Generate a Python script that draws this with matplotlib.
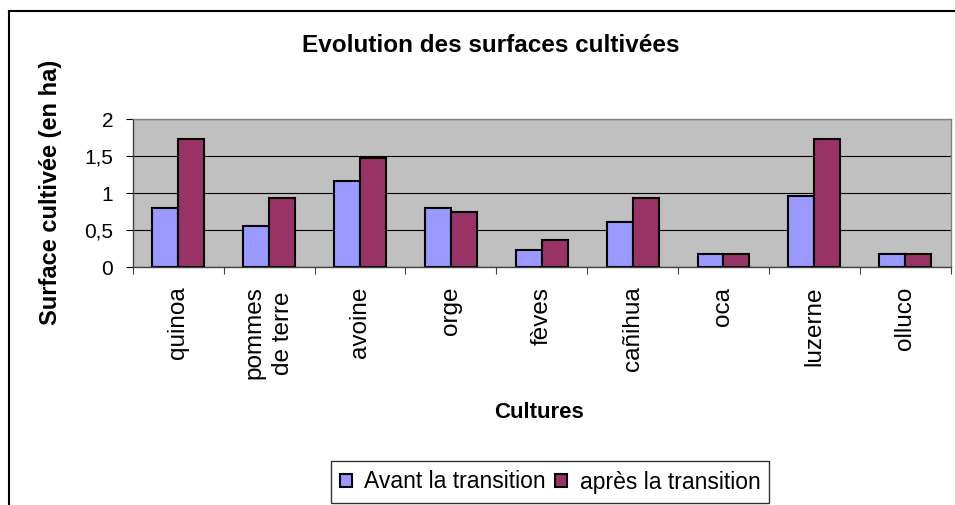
import numpy as np
import matplotlib.pyplot as plt
from matplotlib.lines import Line2D

plt.rcParams['font.family'] = ['Liberation Sans', 'DejaVu Sans']

cultures = ['quinoa', 'pommes\nde terre', 'avoine', 'orge', 'fèves',
            'cañihua', 'oca', 'luzerne', 'olluco']
avant = [0.80, 0.56, 1.16, 0.80, 0.23, 0.61, 0.18, 0.96, 0.18]
apres = [1.73, 0.94, 1.48, 0.75, 0.37, 0.94, 0.18, 1.73, 0.18]
yticks = [0, 0.5, 1, 1.5, 2]
ytick_labels = ['0', '0,5', '1', '1,5', '2']

fig = plt.figure(figsize=(9.55, 5.05), dpi=100)
ax = fig.add_axes([0.139, 0.471, 0.8565, 0.293])

x = np.arange(len(cultures))
w = 1 / 3.5
ax.bar(x - w / 2, avant, w, color='#9999FF', edgecolor='black', lw=1.5,
       label='Avant la transition')
ax.bar(x + w / 2, apres, w, color='#993366', edgecolor='black', lw=1.5,
       label='après la transition')

ax.set_xlim(-0.5, len(cultures) - 0.5)
ax.set_ylim(0, 2)
ax.set_facecolor('#C0C0C0')
ax.yaxis.grid(True, color='black', lw=0.8)
ax.set_axisbelow(True)

ax.set_yticks(yticks)
ax.set_yticklabels(ytick_labels, fontsize=15)
ax.tick_params(axis='y', length=5, width=0.8, pad=9)

# ticks between the groups, labels centred under each group
ax.set_xticks(np.arange(-0.5, len(cultures), 1))
ax.set_xticklabels([])
ax.set_xticks(x, minor=True)
ax.set_xticklabels(cultures, minor=True, rotation=90, fontsize=17.5,
                   va='top', ha='center', multialignment='center',
                   linespacing=1.4)
ax.tick_params(axis='x', which='major', length=5, width=0.8, color='#404040')
ax.tick_params(axis='x', which='minor', length=0, pad=14)

for side in ['top', 'right']:
    ax.spines[side].set_color('#808080')
for side in ['left', 'bottom']:
    ax.spines[side].set_color('#404040')
for s in ax.spines.values():
    s.set_linewidth(1)

fig.text(491 / 955, 1 - 45 / 505, 'Evolution des surfaces cultivées',
         ha='center', va='center', fontsize=17.5, fontweight='bold')
fig.text(50 / 955, 1 - 192 / 505, 'Surface cultivée (en ha)', rotation=90,
         ha='center', va='center', fontsize=17, fontweight='bold')
fig.text(539 / 955, 1 - 412 / 505, 'Cultures',
         ha='center', va='center', fontsize=16, fontweight='bold')

leg = fig.legend(loc='center', bbox_to_anchor=(550 / 955, 1 - 482 / 505),
                 ncol=2, fontsize=16.5, frameon=True, fancybox=False,
                 edgecolor='black', handlelength=0.52, handleheight=0.52,
                 handletextpad=0.55, columnspacing=0.4, borderpad=0.4)
leg.get_frame().set_linewidth(1)

# chart area border (only left and top edges fall inside the image)
fig.add_artist(Line2D([9 / 955, 9 / 955], [0, 1 - 11 / 505], color='black',
                      lw=1.5, transform=fig.transFigure))
fig.add_artist(Line2D([9 / 955, 1], [1 - 11 / 505, 1 - 11 / 505], color='black',
                      lw=1.5, transform=fig.transFigure))

fig.savefig('out.png', dpi=100)
